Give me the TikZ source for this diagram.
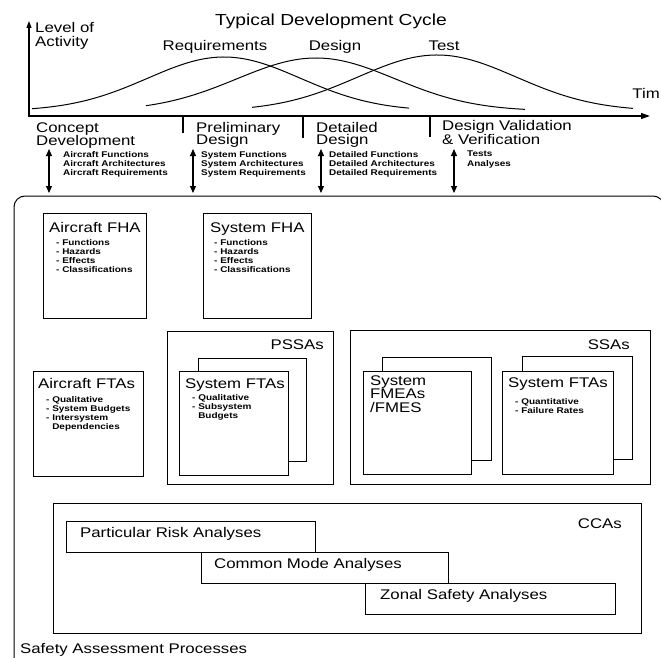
\documentclass[tikz,border=0pt]{standalone}
\usepackage{fontspec}
\setmainfont{Liberation Sans}[FakeStretch=1.2]
\usetikzlibrary{arrows.meta}

\tikzset{
  x=1pt, y=-1pt,
  ttl/.style={font=\fontsize{16}{16}\selectfont, inner sep=0pt, text height=11.5pt, text depth=0pt},
  big/.style={font=\fontsize{14}{14}\selectfont, inner sep=0pt, text height=10pt, text depth=0pt},
  small/.style={font=\bfseries\fontsize{8.3}{9.2}\selectfont, inner sep=0pt, anchor=north west, align=left},
  frame/.style={draw, line width=1pt, fill=white, inner sep=0pt, anchor=north west},
  curve/.style={line width=1pt, smooth},
  axis/.style={line width=1.2pt, {Triangle[length=7pt,width=5pt]}-{Triangle[length=9pt,width=6pt]}},
  dbl/.style={line width=1.1pt, {Triangle[length=7pt,width=6pt]}-{Triangle[length=7pt,width=6pt]}},
  tick/.style={line width=1.1pt},
}

\begin{document}
\begin{tikzpicture}
\clip (0,0) rectangle (661,658);

% ---------------- development cycle chart ----------------
\node[ttl] (title) at (331,20) {Typical Development Cycle};

\coordinate (O) at (29,116);
\coordinate (ytop) at (29,21);
\coordinate (xend) at (650,116);
\draw[axis] (ytop) -- (O) -- (xend);

\node[big, anchor=west] (lvl) at (35,28) {Level of};
\node[big, anchor=west] (act) at (35,42) {Activity};
\node[big, anchor=east] (time) at (660,94) {Tim};

\draw[curve] plot[domain=32:409, samples=90] (\x,{111-54*exp(-((\x-224)/108)^2)});
\draw[curve] plot[domain=146:525, samples=90] (\x,{111-53*exp(-((\x-316)/112)^2)});
\draw[curve] plot[domain=252:633, samples=90] (\x,{111-56*exp(-((\x-437)/112)^2)});

\node[big] (req) at (215,46) {Requirements};
\node[big] (des) at (335,46) {Design};
\node[big] (tst) at (444,46) {Test};

% phase separators
\coordinate (s1a) at (183,116); \coordinate (s1b) at (183,133);
\coordinate (s2a) at (303,116); \coordinate (s2b) at (303,138);
\coordinate (s3a) at (430,116); \coordinate (s3b) at (430,137);
\draw[tick] (s1a) -- (s1b);
\draw[tick] (s2a) -- (s2b);
\draw[tick] (s3a) -- (s3b);

% phase names
\node[big, anchor=west] (p1a) at (36,128) {Concept};
\node[big, anchor=west] (p1b) at (36,141) {Development};
\node[big, anchor=west] (p2a) at (196,127) {Preliminary};
\node[big, anchor=west] (p2b) at (196,140) {Design};
\node[big, anchor=west] (p3a) at (316,127) {Detailed};
\node[big, anchor=west] (p3b) at (316,140) {Design};
\node[big, anchor=west] (p4a) at (442,126) {Design Validation};
\node[big, anchor=west] (p4b) at (442,140) {\& Verification};

% phase outputs
\node[small] (o1) at (63,151) {Aircraft Functions\\Aircraft Architectures\\Aircraft Requirements};
\node[small] (o2) at (201,151) {System Functions\\System Architectures\\System Requirements};
\node[small] (o3) at (329,151) {Detailed Functions\\Detailed Architectures\\Detailed Requirements};
\node[small] (o4) at (467,151) {Tests\\Analyses};

% links between phases and the assessment processes
\coordinate (d1a) at (49,149); \coordinate (d1b) at (49,193);
\coordinate (d2a) at (193,149); \coordinate (d2b) at (193,193);
\coordinate (d3a) at (321,149); \coordinate (d3b) at (321,193);
\coordinate (d4a) at (454,149); \coordinate (d4b) at (454,193);
\draw[dbl] (d1a) -- (d1b);
\draw[dbl] (d2a) -- (d2b);
\draw[dbl] (d3a) -- (d3b);
\draw[dbl] (d4a) -- (d4b);

% ---------------- safety assessment processes ----------------
\draw[line width=1pt, rounded corners=11pt] (14,720) -- (14,196) -- (664,196) -- (664,720);

% FHAs
\node[frame, minimum width=103, minimum height=105] (afha) at (43,213) {};
\node[big, anchor=west] (afhat) at (49,227) {Aircraft FHA};
\node[small] (afhai) at (56,239) {- Functions\\- Hazards\\- Effects\\- Classifications};

\node[frame, minimum width=108, minimum height=105] (sfha) at (203,213) {};
\node[big, anchor=west] (sfhat) at (210,227) {System FHA};
\node[small] (sfhai) at (214,239) {- Functions\\- Hazards\\- Effects\\- Classifications};

% aircraft FTAs
\node[frame, minimum width=110, minimum height=105] (afta) at (33,371) {};
\node[big, anchor=west] (aftat) at (38,383) {Aircraft FTAs};
\node[small] (aftai) at (46,396) {- Qualitative\\- System Budgets\\- Intersystem\\\phantom{- }Dependencies};

% PSSAs
\node[frame, minimum width=166, minimum height=153] (pssa) at (167,331) {};
\node[big, anchor=east] (pssat) at (324,344) {PSSAs};
\node[frame, minimum width=108, minimum height=103] (pftab) at (198,358) {};
\node[frame, minimum width=109, minimum height=104] (pfta) at (179,371) {};
\node[big, anchor=west] (pftat) at (185,383) {System FTAs};
\node[small] (pftai) at (192,394) {- Qualitative\\- Subsystem\\\phantom{- }Budgets};

% SSAs
\node[frame, minimum width=300, minimum height=154] (ssa) at (350,330) {};
\node[big, anchor=east] (ssat) at (630,344) {SSAs};
\node[frame, minimum width=109, minimum height=103] (fmeab) at (382,357) {};
\node[frame, minimum width=108, minimum height=103] (fmea) at (363,371) {};
\node[big, anchor=west] (fmea1) at (370,380) {System};
\node[big, anchor=west] (fmea2) at (370,393.5) {FMEAs};
\node[big, anchor=west] (fmea3) at (370,407) {/FMES};
\node[frame, minimum width=110, minimum height=103] (sftab) at (522,356) {};
\node[frame, minimum width=111, minimum height=103] (sfta) at (502,371) {};
\node[big, anchor=west] (sftat) at (508,382) {System FTAs};
\node[small] (sftai) at (515,398) {- Quantitative\\- Failure Rates};

% CCAs
\node[frame, minimum width=588, minimum height=130] (cca) at (53,503) {};
\node[big, anchor=east] (ccat) at (622,523) {CCAs};
\node[frame, minimum width=249, minimum height=31] (pra) at (66,521) {};
\node[big, anchor=west] (prat) at (80,532) {Particular Risk Analyses};
\node[frame, minimum width=247, minimum height=31] (cma) at (201,552) {};
\node[big, anchor=west] (cmat) at (214,563) {Common Mode Analyses};
\node[frame, minimum width=250, minimum height=31] (zsa) at (365,583) {};
\node[big, anchor=west] (zsat) at (380,594) {Zonal Safety Analyses};

\node[big, anchor=west] (sap) at (20,648) {Safety Assessment Processes};
\end{tikzpicture}
\end{document}
